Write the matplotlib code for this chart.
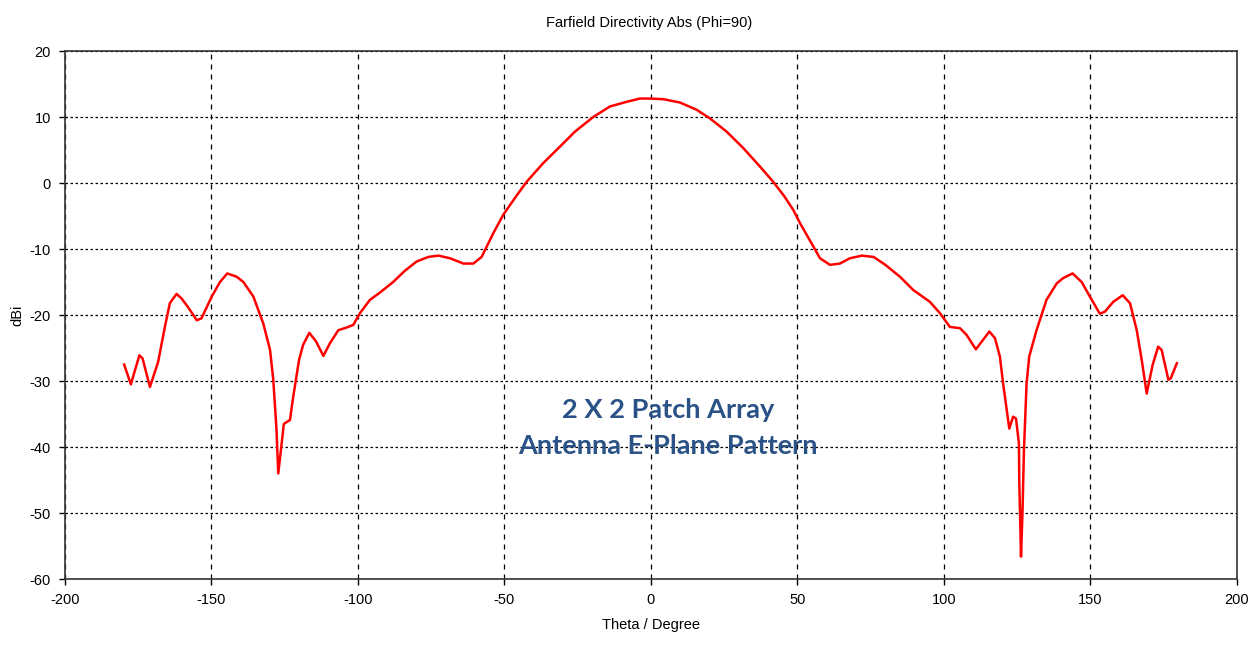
import matplotlib
matplotlib.use("Agg")
import matplotlib.pyplot as plt

plt.rcParams["axes.unicode_minus"] = False

# Farfield directivity, phi = 90
theta = [
    -179.8, -177.5, -174.6, -173.5, -171.0, -168.2, -165.9, -164.2, -161.9, -160.2,
    -158.0, -155.0, -153.4, -149.9, -147.1, -144.6, -141.4, -139.1, -135.7, -132.3,
    -130.0, -128.9, -127.8, -127.2, -126.3, -125.3, -123.2, -122.1, -120.1, -118.7,
    -116.6, -114.3, -111.8, -109.6, -106.7, -103.9, -101.6, -99.3, -95.9, -92.5,
    -88.0, -84.0, -80.0, -76.0, -72.5, -68.6, -64.0, -60.6, -57.8, -53.8,
    -50.4, -46.0, -42.4, -36.8, -31.1, -25.9, -19.7, -14.0, -8.3, -3.8,
    -0.3, 4.2, 9.9, 15.6, 20.1, 25.8, 31.5, 37.2, 41.7, 45.5,
    48.6, 50.9, 55.4, 57.7, 61.1, 64.5, 67.9, 72.0, 76.0, 80.0,
    85.0, 89.5, 95.2, 98.6, 102.0, 105.5, 107.7, 110.9, 115.5, 117.4,
    119.1, 120.2, 122.3, 123.6, 124.6, 125.6, 125.7, 126.3, 126.8, 127.3,
    128.2, 129.1, 131.6, 135.0, 138.5, 140.7, 143.9, 147.0, 149.8, 153.2,
    154.9, 157.8, 161.0, 163.5, 165.8, 167.5, 169.2, 171.2, 173.1, 174.3,
    176.6, 177.4, 179.5,
]
dbi = [
    -27.5, -30.5, -26.1, -26.6, -30.9, -27.1, -21.8, -18.2, -16.8, -17.5,
    -18.8, -20.8, -20.5, -17.2, -15.0, -13.7, -14.2, -15.0, -17.2, -21.3,
    -25.3, -29.8, -37.4, -44.0, -40.5, -36.5, -35.9, -32.4, -26.8, -24.5,
    -22.7, -24.0, -26.2, -24.3, -22.3, -21.9, -21.5, -19.7, -17.7, -16.6,
    -15.0, -13.3, -11.9, -11.2, -11.0, -11.4, -12.2, -12.2, -11.2, -7.6,
    -4.8, -2.0, 0.2, 3.0, 5.5, 7.8, 10.0, 11.6, 12.3, 12.8,
    12.8, 12.7, 12.2, 11.1, 9.8, 7.8, 5.3, 2.5, 0.2, -2.0,
    -4.1, -6.1, -9.6, -11.4, -12.4, -12.2, -11.4, -11.0, -11.2, -12.4,
    -14.2, -16.2, -18.0, -19.7, -21.8, -22.0, -23.0, -25.2, -22.5, -23.5,
    -26.3, -30.4, -37.2, -35.4, -35.7, -39.5, -45.0, -56.6, -50.0, -40.5,
    -30.4, -26.3, -22.3, -17.7, -15.2, -14.4, -13.7, -15.0, -17.2, -19.8,
    -19.5, -18.0, -17.0, -18.2, -22.3, -26.8, -31.9, -27.6, -24.8, -25.3,
    -29.8, -29.6, -27.3,
]

x_ticks = [-200, -150, -100, -50, 0, 50, 100, 150, 200]
y_ticks = [20, 10, 0, -10, -20, -30, -40, -50, -60]

fig = plt.figure(figsize=(12.54, 6.5), dpi=100)
ax = fig.add_axes([0.0518, 0.1092, 0.9346, 0.8123])

ax.plot(theta, dbi, color="red", linewidth=1.8, zorder=3)

ax.set_xlim(-200, 200)
ax.set_ylim(-60, 20)
ax.set_xticks(x_ticks)
ax.set_yticks(y_ticks)
ax.tick_params(direction="out", length=4, width=1, labelsize=10.5, pad=6)
for lab in ax.get_xticklabels() + ax.get_yticklabels():
    lab.set_family("Liberation Sans")

ax.xaxis.grid(True, color="black", linestyle=(0, (4, 4)), linewidth=0.9)
ax.yaxis.grid(True, color="black", linestyle=(0, (2, 2)), linewidth=0.9)
for s in ax.spines.values():
    s.set_color("#333333")
    s.set_linewidth(1.2)

ax.set_xlabel("Theta / Degree", family="Liberation Sans", fontsize=10.5, labelpad=8)
ax.set_ylabel("dBi", family="Liberation Sans", fontsize=10.5, labelpad=4)
fig.text(0.518, 0.965, "Farfield Directivity Abs (Phi=90)", ha="center", va="center",
         family="Liberation Sans", fontsize=10.5)

ax.text(5.8, -37.1, "2 X 2 Patch Array\nAntenna E-Plane Pattern", ha="center", va="center",
        family="Lato", fontweight="bold", fontsize=19.5, color="#2B5287",
        linespacing=1.62, zorder=2)

fig.savefig("out.png", dpi=100)
